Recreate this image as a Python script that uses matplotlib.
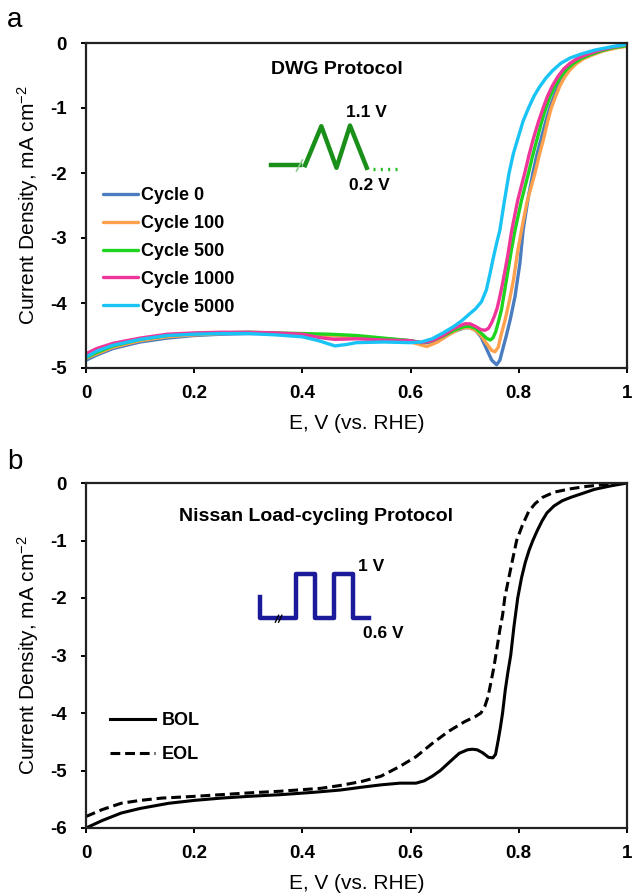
import matplotlib
matplotlib.use("Agg")
import matplotlib.pyplot as plt

plt.rcParams["font.family"] = ["Liberation Sans", "DejaVu Sans"]
plt.rcParams["mathtext.fontset"] = "custom"
plt.rcParams["mathtext.rm"] = "Liberation Sans"
plt.rcParams["mathtext.it"] = "Liberation Sans:italic"
plt.rcParams["mathtext.bf"] = "Liberation Sans:bold"

# ---- panel a: DWG protocol (x = E vs RHE, y = current density) ----
cycle_labels = ["Cycle 0", "Cycle 100", "Cycle 500", "Cycle 1000", "Cycle 5000"]
cycle_colors = ["#4a7dbf", "#ffa04d", "#1ed41e", "#f0359a", "#19c3f5"]

c0_x = [0, 0.02, 0.05, 0.1, 0.15, 0.2, 0.25, 0.3, 0.35, 0.4, 0.45, 0.5, 0.55, 0.6, 0.62, 0.64,
        0.66, 0.68, 0.70, 0.71, 0.72, 0.73, 0.74, 0.75, 0.759, 0.765, 0.770, 0.777, 0.784, 0.793,
        0.802, 0.808, 0.817, 0.826, 0.834, 0.842, 0.85, 0.857, 0.865, 0.873, 0.882, 0.892, 0.903,
        0.918, 0.935, 0.955, 0.978, 1.0]
c0_y = [-4.88, -4.80, -4.70, -4.60, -4.54, -4.50, -4.48, -4.47, -4.47, -4.49, -4.50, -4.52, -4.55,
        -4.58, -4.62, -4.60, -4.53, -4.44, -4.38, -4.38, -4.42, -4.52, -4.70, -4.88, -4.95, -4.88,
        -4.72, -4.50, -4.26, -3.90, -3.39, -2.88, -2.40, -2.00, -1.70, -1.45, -1.20, -1.00, -0.82,
        -0.66, -0.52, -0.40, -0.31, -0.23, -0.17, -0.11, -0.07, -0.04]

c100_x = [0, 0.02, 0.05, 0.1, 0.15, 0.2, 0.25, 0.3, 0.35, 0.4, 0.45, 0.5, 0.55, 0.6, 0.63, 0.65,
          0.67, 0.69, 0.705, 0.72, 0.73, 0.74, 0.75, 0.756, 0.762, 0.767, 0.775, 0.783, 0.79,
          0.798, 0.805, 0.815, 0.83, 0.838, 0.846, 0.853, 0.86, 0.868, 0.876, 0.885, 0.895, 0.906,
          0.92, 0.937, 0.957, 0.978, 1.0]
c100_y = [-4.85, -4.78, -4.68, -4.58, -4.52, -4.49, -4.47, -4.46, -4.47, -4.49, -4.50, -4.52, -4.55,
          -4.60, -4.67, -4.60, -4.49, -4.40, -4.37, -4.42, -4.50, -4.62, -4.73, -4.75, -4.68, -4.50,
          -4.25, -3.95, -3.65, -3.20, -2.88, -2.45, -2.00, -1.72, -1.47, -1.22, -1.00, -0.82, -0.66,
          -0.52, -0.41, -0.32, -0.24, -0.18, -0.12, -0.08, -0.05]

c500_x = [0, 0.02, 0.05, 0.1, 0.15, 0.2, 0.25, 0.3, 0.35, 0.4, 0.45, 0.5, 0.55, 0.6, 0.62, 0.64,
          0.66, 0.68, 0.70, 0.71, 0.72, 0.73, 0.74, 0.747, 0.752, 0.757, 0.762, 0.768, 0.773, 0.778,
          0.786, 0.793, 0.805, 0.818, 0.826, 0.834, 0.842, 0.85, 0.858, 0.867, 0.877, 0.888, 0.9,
          0.915, 0.932, 0.953, 0.976, 1.0]
c500_y = [-4.84, -4.76, -4.66, -4.56, -4.50, -4.47, -4.46, -4.45, -4.46, -4.47, -4.48, -4.50, -4.54,
          -4.58, -4.61, -4.58, -4.51, -4.42, -4.36, -4.36, -4.39, -4.46, -4.54, -4.57, -4.54, -4.45,
          -4.30, -4.10, -3.85, -3.60, -3.20, -2.88, -2.42, -2.00, -1.72, -1.47, -1.22, -1.00, -0.82,
          -0.66, -0.52, -0.41, -0.32, -0.24, -0.18, -0.12, -0.07, -0.04]

c1000_x = [0, 0.02, 0.05, 0.1, 0.15, 0.2, 0.25, 0.3, 0.35, 0.4, 0.43, 0.46, 0.5, 0.55, 0.6, 0.62,
           0.64, 0.66, 0.68, 0.70, 0.71, 0.72, 0.73, 0.7375, 0.744, 0.75, 0.755, 0.76, 0.765, 0.77,
           0.775, 0.78, 0.787, 0.798, 0.811, 0.819, 0.827, 0.836, 0.845, 0.853, 0.862, 0.872, 0.883,
           0.895, 0.91, 0.928, 0.95, 0.975, 1.0]
c1000_y = [-4.78, -4.70, -4.62, -4.54, -4.48, -4.46, -4.45, -4.45, -4.46, -4.48, -4.53, -4.56, -4.55,
           -4.57, -4.58, -4.61, -4.58, -4.50, -4.39, -4.32, -4.32, -4.36, -4.41, -4.42, -4.39, -4.30,
           -4.20, -4.08, -3.90, -3.70, -3.48, -3.25, -2.88, -2.42, -2.00, -1.72, -1.47, -1.22, -1.00,
           -0.82, -0.66, -0.52, -0.40, -0.31, -0.23, -0.17, -0.11, -0.06, -0.02]

c5000_x = [0, 0.02, 0.05, 0.1, 0.15, 0.2, 0.25, 0.3, 0.35, 0.4, 0.43, 0.46, 0.48, 0.5, 0.55, 0.6,
           0.62, 0.64, 0.66, 0.68, 0.695, 0.71, 0.72, 0.731, 0.74, 0.747, 0.753, 0.759, 0.765, 0.773,
           0.782, 0.79, 0.799, 0.808, 0.818, 0.828, 0.838, 0.85, 0.863, 0.878, 0.895, 0.915, 0.94,
           0.97, 1.0]
c5000_y = [-4.83, -4.74, -4.65, -4.56, -4.50, -4.48, -4.47, -4.47, -4.49, -4.52, -4.58, -4.66, -4.64,
           -4.61, -4.60, -4.61, -4.60, -4.55, -4.46, -4.36, -4.27, -4.16, -4.09, -3.98, -3.80, -3.54,
           -3.30, -3.08, -2.88, -2.45, -2.00, -1.70, -1.45, -1.20, -1.00, -0.82, -0.68, -0.54, -0.42,
           -0.31, -0.23, -0.17, -0.11, -0.06, -0.02]

# ---- panel b: Nissan load-cycling protocol ----
bol_x = [0, 0.03, 0.065, 0.1, 0.153, 0.2, 0.25, 0.3, 0.36, 0.42, 0.47, 0.51, 0.545, 0.58, 0.61,
         0.625, 0.64, 0.655, 0.67, 0.69, 0.705, 0.714, 0.723, 0.733, 0.744, 0.752, 0.757, 0.762,
         0.766, 0.77, 0.775, 0.78, 0.785, 0.791, 0.798, 0.805, 0.812, 0.819, 0.826, 0.834, 0.843,
         0.852, 0.865, 0.88, 0.896, 0.915, 0.94, 0.97, 1.0]
bol_y = [-6.0, -5.87, -5.74, -5.66, -5.57, -5.52, -5.48, -5.45, -5.42, -5.38, -5.34, -5.29, -5.25,
         -5.22, -5.22, -5.18, -5.10, -5.00, -4.87, -4.70, -4.64, -4.63, -4.64, -4.69, -4.77, -4.78,
         -4.72, -4.47, -4.25, -4.00, -3.60, -3.28, -3.00, -2.50, -2.00, -1.65, -1.38, -1.17, -1.00,
         -0.83, -0.66, -0.52, -0.40, -0.31, -0.25, -0.19, -0.11, -0.05, 0.0]

eol_x = [0, 0.03, 0.065, 0.1, 0.14, 0.2, 0.25, 0.3, 0.36, 0.434, 0.47, 0.51, 0.545, 0.58, 0.61,
         0.64, 0.67, 0.70, 0.72, 0.73, 0.737, 0.743, 0.748, 0.754, 0.759, 0.765, 0.77, 0.774, 0.78,
         0.787, 0.796, 0.806, 0.818, 0.83, 0.844, 0.865, 0.896, 0.925, 0.955, 1.0]
eol_y = [-5.80, -5.68, -5.57, -5.52, -5.48, -5.45, -5.42, -5.39, -5.36, -5.31, -5.26, -5.19, -5.10,
         -4.93, -4.76, -4.53, -4.32, -4.15, -4.06, -4.00, -3.89, -3.72, -3.49, -3.20, -2.91, -2.55,
         -2.30, -2.00, -1.72, -1.40, -1.00, -0.75, -0.50, -0.36, -0.25, -0.16, -0.10, -0.06, -0.03,
         0.0]

x_ticks = [0, 0.2, 0.4, 0.6, 0.8, 1]
x_ticklabels = ["0", "0.2", "0.4", "0.6", "0.8", "1"]

W, H = 633, 893
fig = plt.figure(figsize=(W / 100, H / 100), dpi=100)


def style_axes(ax, ymin):
    ax.set_xlim(0, 1)
    ax.set_ylim(ymin, 0)
    ax.set_xticks(x_ticks)
    ax.set_xticklabels(x_ticklabels)
    ax.set_yticks(range(ymin, 1))
    ax.set_yticklabels([str(v) for v in range(ymin, 1)])
    for s in ax.spines.values():
        s.set_linewidth(1.6)
        s.set_color("#222222")
    ax.tick_params(direction="out", length=3.6, width=1.4, labelsize=13.5)
    ax.tick_params(axis="x", pad=9)
    ax.tick_params(axis="y", pad=10)
    for lab in ax.get_xticklabels() + ax.get_yticklabels():
        lab.set_fontweight("bold")
    ax.set_xlabel("E, V (vs. RHE)", fontsize=15, labelpad=8)
    ax.set_ylabel("Current Density, mA cm$^{-2}$", fontsize=15, labelpad=7)


# panel a
ax1 = fig.add_axes([86 / W, 1 - 368 / H, 541 / W, 325 / H])
curves_a = [(c0_x, c0_y), (c100_x, c100_y), (c500_x, c500_y), (c1000_x, c1000_y), (c5000_x, c5000_y)]
for (xs, ys), lab, col in zip(curves_a, cycle_labels, cycle_colors):
    ax1.plot(xs, ys, color=col, lw=2.4, label=lab, solid_capstyle="round")
style_axes(ax1, -5)
ax1.legend(loc="upper left", bbox_to_anchor=(0.031, 0.556), frameon=False,
           handlelength=1.95, handletextpad=0.17, labelspacing=0.6, borderpad=0,
           prop={"size": 13, "weight": "bold"}, borderaxespad=0)
ax1.text(0.463, -0.4, "DWG Protocol", ha="center", va="center", fontsize=14, fontweight="bold")
# triangle waveform inset
g = "#1a8f1a"
ax1.plot([0.342, 0.396], [-1.88, -1.88], color=g, lw=3.2)
ax1.plot([0.389, 0.400], [-1.97, -1.80], color="#8fd18f", lw=1.2)
ax1.plot([0.405, 0.435, 0.463, 0.488, 0.519], [-1.88, -1.28, -1.92, -1.27, -1.92],
         color=g, lw=3.2, solid_joinstyle="round")
ax1.plot([0.531, 0.58], [-1.94, -1.94], color="#22bb22", lw=2.4, ls=(0, (0.6, 1.6)))
ax1.text(0.519, -1.07, "1.1 V", ha="center", va="center", fontsize=12.5, fontweight="bold")
ax1.text(0.523, -2.2, "0.2 V", ha="center", va="center", fontsize=12.5, fontweight="bold")
fig.text(15 / W, 1 - 20 / H, "a", fontsize=20, ha="center", va="center")

# panel b
ax2 = fig.add_axes([86 / W, 1 - 828 / H, 541 / W, 345 / H])
ax2.plot(bol_x, bol_y, color="black", lw=2.2, label="BOL")
ax2.plot(eol_x, eol_y, color="black", lw=2.2, ls=(0, (3.2, 1.6)), label="EOL")
style_axes(ax2, -6)
ax2.legend(loc="upper left", bbox_to_anchor=(0.045, 0.336), frameon=False,
           handlelength=2.5, handletextpad=0.33, labelspacing=0.95, borderpad=0,
           prop={"size": 13, "weight": "bold"}, borderaxespad=0)
ax2.text(0.425, -0.59, "Nissan Load-cycling Protocol", ha="center", va="center",
         fontsize=14, fontweight="bold")
nb = "#1a1a9a"
ax2.plot([0.321, 0.321, 0.389, 0.389, 0.423, 0.423, 0.458, 0.458, 0.494, 0.494, 0.524],
         [-1.98, -2.35, -2.35, -1.59, -1.59, -2.35, -2.35, -1.59, -1.59, -2.35, -2.35],
         color=nb, lw=3.2, solid_joinstyle="round")
ax2.plot([0.350, 0.356], [-2.42, -2.30], color="black", lw=1)
ax2.plot([0.356, 0.362], [-2.42, -2.30], color="black", lw=1)
ax2.text(0.503, -1.45, "1 V", ha="left", va="center", fontsize=12.5, fontweight="bold")
ax2.text(0.55, -2.62, "0.6 V", ha="center", va="center", fontsize=12.5, fontweight="bold")
fig.text(15 / W, 1 - 462 / H, "b", fontsize=20, ha="center", va="center")

fig.savefig("out.png", dpi=100)
